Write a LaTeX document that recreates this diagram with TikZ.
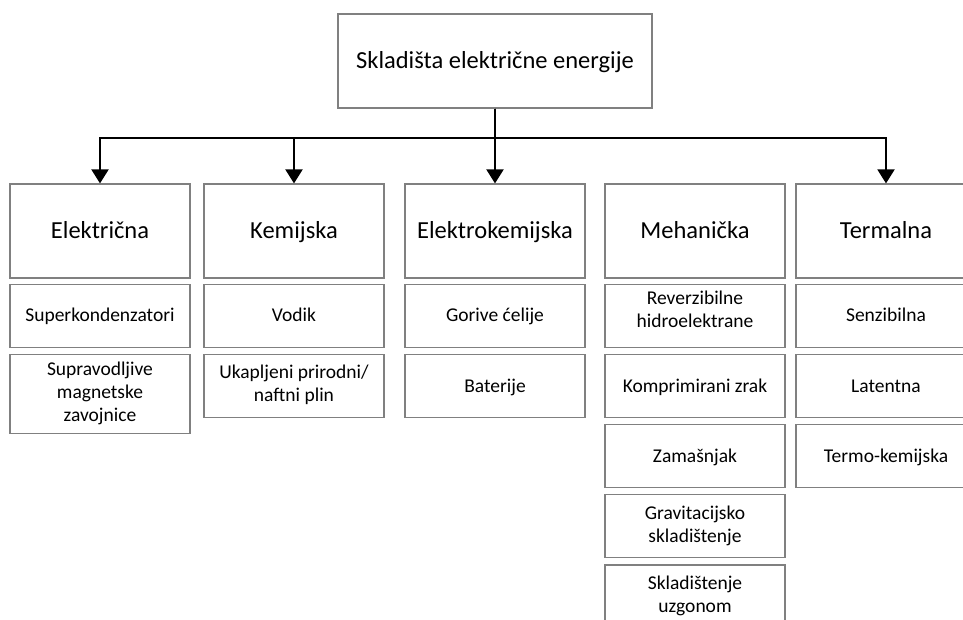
\documentclass[tikz,border=0pt]{standalone}
\usepackage{fontspec}
\setmainfont{Carlito}
\usetikzlibrary{positioning,arrows.meta}
\definecolor{boxgray}{RGB}{128,128,128}
\newcommand{\boxstrut}{\rule[-4.5pt]{0pt}{21.5pt}}

\begin{document}
\begin{tikzpicture}[x=1pt,y=-1pt,node distance=6pt,
    box/.style={draw=boxgray,line width=1.2pt,minimum width=180pt,align=center,inner sep=2pt},
    head/.style={box,minimum height=94pt,text height=20pt,text depth=4.2pt,
      font=\fontsize{24.5}{27}\selectfont},
    sub/.style={box,minimum height=63pt,font=\fontsize{19.5}{23}\selectfont,
      execute at begin node=\boxstrut,execute at end node=\boxstrut},
    conn/.style={line width=2pt,-{Triangle[width=17pt,length=14pt]}}]
  \clip (0,0) rectangle (963,619);

  \node[head,minimum width=314pt] (S) at (495,61) {Skladišta električne energije};

  \node[head] (elek) at (100,231) {Električna};
  \node[sub,below=5pt of elek]   (elek1) {Superkondenzatori};
  \node[sub,below=of elek1,minimum height=79pt] (elek2) {Supravodljive\\magnetske\\zavojnice};

  \node[head] (kem) at (294,231) {Kemijska};
  \node[sub,below=5pt of kem] (kem1) {Vodik};
  \node[sub,below=of kem1]    (kem2) {Ukapljeni prirodni/\\naftni plin};

  \node[head] (ekem) at (495,231) {Elektrokemijska};
  \node[sub,below=5pt of ekem] (ekem1) {Gorive ćelije};
  \node[sub,below=of ekem1]    (ekem2) {Baterije};

  \node[head] (meh) at (695,231) {Mehanička};
  \node[sub,below=5pt of meh,execute at end node={\rule[-12.4pt]{0pt}{12.4pt}}]
    (meh1) {Reverzibilne\\hidroelektrane};
  \node[sub,below=of meh1]    (meh2) {Komprimirani zrak};
  \node[sub,below=of meh2]    (meh3) {Zamašnjak};
  \node[sub,below=of meh3]    (meh4) {Gravitacijsko\\skladištenje};
  \node[sub,below=of meh4]    (meh5) {Skladištenje\\uzgonom};

  \node[head] (term) at (886,231) {Termalna};
  \node[sub,below=5pt of term] (term1) {Senzibilna};
  \node[sub,below=of term1]    (term2) {Latentna};
  \node[sub,below=of term2]    (term3) {Termo-kemijska};

  \draw[conn] (S.south) -- ++(0,29) -| (elek.north);
  \draw[conn] (S.south) -- ++(0,29) -| (kem.north);
  \draw[conn] (S.south) -- (ekem.north);
  \draw[conn] (S.south) -- ++(0,29) -| (term.north);
\end{tikzpicture}
\end{document}
